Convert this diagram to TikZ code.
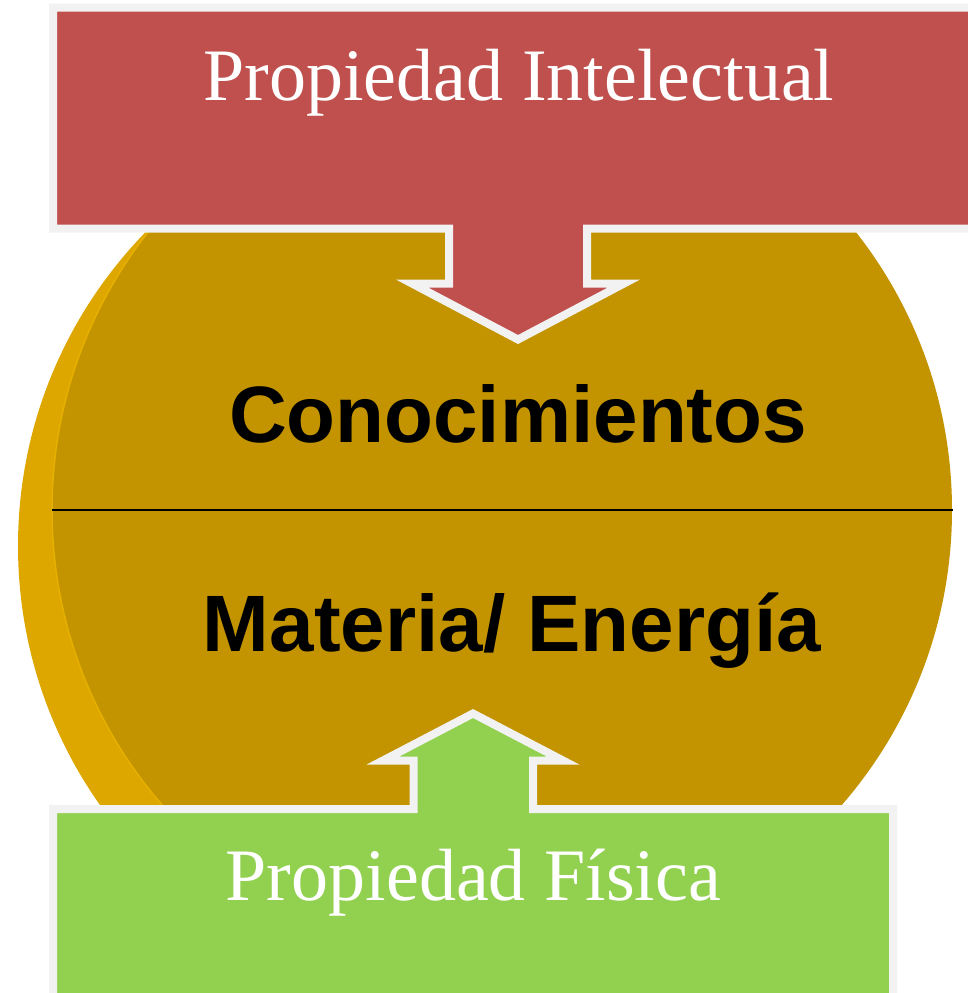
\documentclass[tikz,border=0pt]{standalone}
\usepackage{fontspec}
\setmainfont{Liberation Serif}
\setsansfont{Liberation Sans}
\usepackage{tikz}
\usetikzlibrary{positioning}

\definecolor{ipred}{HTML}{C0504D}
\definecolor{fisgreen}{HTML}{92D050}
\definecolor{diskfront}{HTML}{C39400}
\definecolor{diskside}{HTML}{DEA700}
\definecolor{diskhi}{HTML}{E6B000}
\definecolor{rimgray}{HTML}{F2F2F2}

\begin{document}
\begin{tikzpicture}[x=1pt,y=-1pt,
  blocklbl/.style={white,font=\rmfamily\fontsize{74}{80}\selectfont,anchor=base},
  disklbl/.style={black,font=\sffamily\bfseries\fontsize{80}{90}\selectfont,anchor=base},
  blockarrow/.style={draw=rimgray,line width=8pt,line join=miter}]
\useasboundingbox (0,0) rectangle (968,993);
\clip (0,0) rectangle (968,993);

% disk: rim and face
\fill[diskside] (468,546) circle (450pt);
\fill[diskfront] (502,510) circle (450pt);
\begin{scope}
\clip (0,0) rectangle (480,993);
\draw[diskhi,line width=1.5pt] (502,510) circle (450pt);
\end{scope}

\coordinate (divL) at (52,510);
\coordinate (divR) at (953,510);
\draw[black,line width=2pt] (divL) -- (divR);

\node[disklbl] (know) at (518,442) {Conocimientos};
\node[disklbl] (matter) at (512,651) {Materia/ Energía};

% intellectual property block with arrow down
\path[blockarrow,fill=ipred]
  (53,7.5)-- (975,7.5)-- (975,228.5)-- (587,228.5)-- (587,283.5)--
  (624,283.5)-- (518,339.5)-- (412,283.5)-- (449,283.5)-- (449,228.5)--
  (53,228.5)-- cycle;
\node[blocklbl] (intel) at (519,100) {Propiedad Intelectual};

% physical property block with arrow up
\path[blockarrow,fill=fisgreen]
  (53,1000)-- (53,809)-- (413.5,809)-- (413.5,760.5)-- (383,760.5)--
  (473,713.5)-- (563,760.5)-- (533,760.5)-- (533,809)-- (893,809)--
  (893,1000)-- cycle;
\node[blocklbl,font=\rmfamily\fontsize{74}{80}\selectfont] (phys) at (473.5,900) {Propiedad Física};

\end{tikzpicture}
\end{document}
